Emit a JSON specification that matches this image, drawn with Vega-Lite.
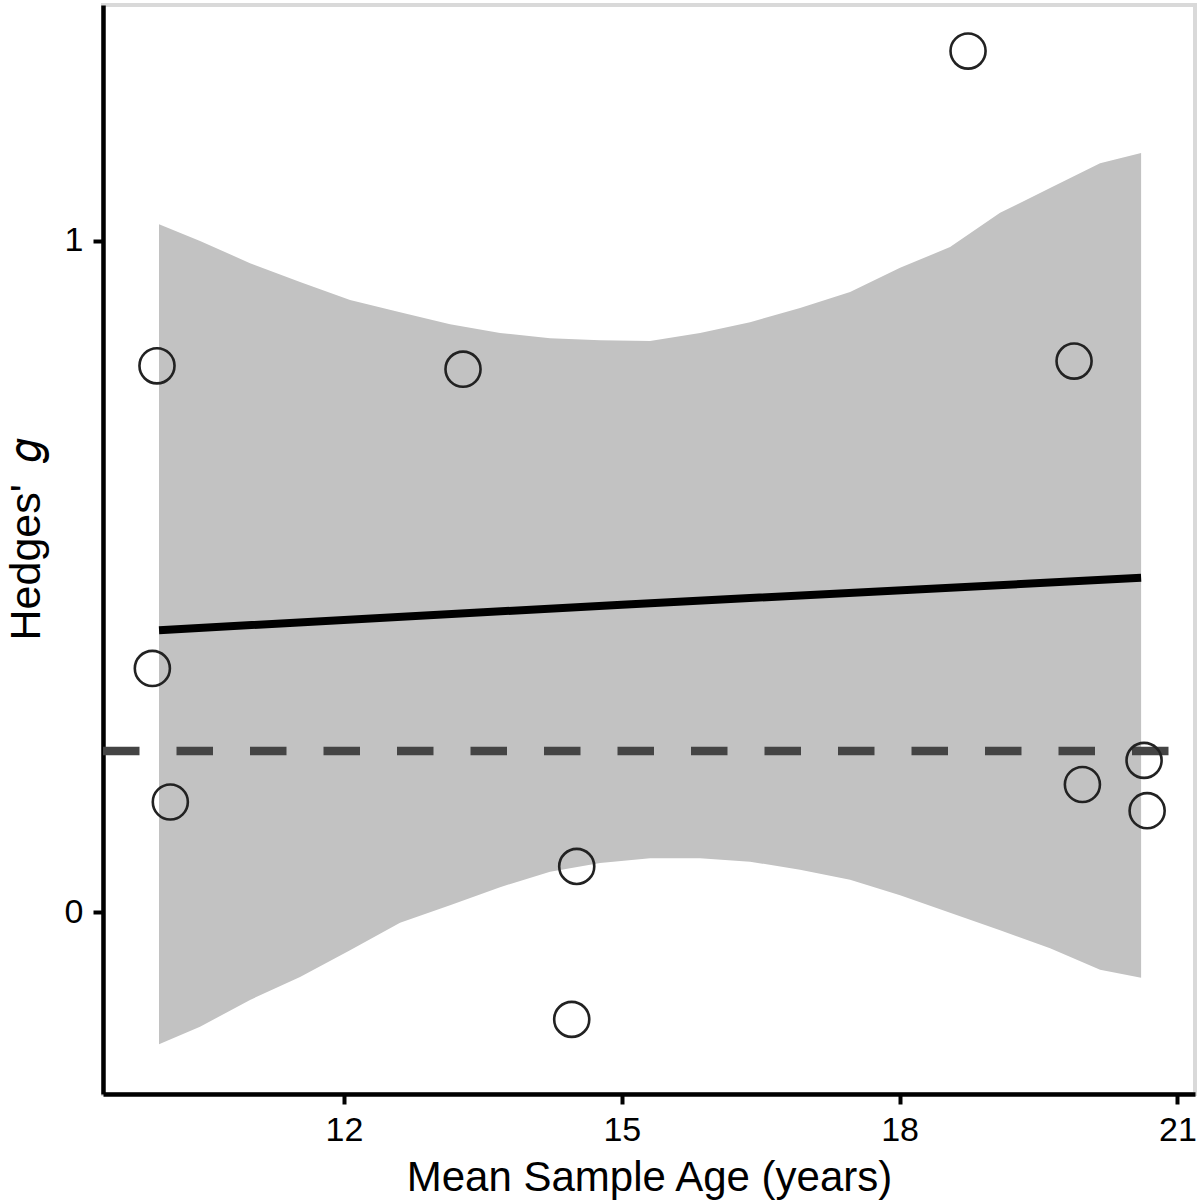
{
  "$schema": "https://vega.github.io/schema/vega-lite/v6.json",
  "autosize": "none",
  "width": 1092,
  "height": 1089,
  "padding": {"left": 103, "top": 5, "right": 5, "bottom": 106},
  "background": "white",
  "config": {
    "font": "Liberation Sans",
    "view": {"stroke": "#d9d9d9", "strokeWidth": 4},
    "axis": {
      "grid": false,
      "domainColor": "black",
      "domainWidth": 4.5,
      "tickColor": "black",
      "tickWidth": 4,
      "tickSize": 10,
      "labelFont": "Liberation Sans",
      "labelFontSize": 34,
      "labelColor": "black",
      "titleFont": "Liberation Sans",
      "titleFontSize": 42,
      "titleFontWeight": "normal",
      "titleColor": "black"
    }
  },
  "datasets": {
    "points": [
      {"age": 9.930, "g": 0.363},
      {"age": 9.980, "g": 0.814},
      {"age": 10.124, "g": 0.164},
      {"age": 13.285, "g": 0.809},
      {"age": 14.513, "g": 0.068},
      {"age": 14.459, "g": -0.160},
      {"age": 18.739, "g": 1.283},
      {"age": 19.884, "g": 0.821},
      {"age": 19.974, "g": 0.190},
      {"age": 20.640, "g": 0.226},
      {"age": 20.673, "g": 0.151}
    ],
    "band": [
      {"age": 10.002, "lo": -0.197, "hi": 1.025},
      {"age": 10.445, "lo": -0.171, "hi": 1.000},
      {"age": 10.985, "lo": -0.131, "hi": 0.967},
      {"age": 11.525, "lo": -0.097, "hi": 0.939},
      {"age": 12.065, "lo": -0.057, "hi": 0.912},
      {"age": 12.605, "lo": -0.016, "hi": 0.894},
      {"age": 13.145, "lo": 0.010, "hi": 0.876},
      {"age": 13.685, "lo": 0.037, "hi": 0.863},
      {"age": 14.225, "lo": 0.060, "hi": 0.855},
      {"age": 14.765, "lo": 0.073, "hi": 0.852},
      {"age": 15.305, "lo": 0.080, "hi": 0.851},
      {"age": 15.845, "lo": 0.080, "hi": 0.863},
      {"age": 16.385, "lo": 0.075, "hi": 0.879},
      {"age": 16.925, "lo": 0.063, "hi": 0.900},
      {"age": 17.465, "lo": 0.048, "hi": 0.924},
      {"age": 18.005, "lo": 0.025, "hi": 0.960},
      {"age": 18.545, "lo": -0.001, "hi": 0.991},
      {"age": 19.085, "lo": -0.027, "hi": 1.042},
      {"age": 19.625, "lo": -0.054, "hi": 1.079},
      {"age": 20.165, "lo": -0.086, "hi": 1.116},
      {"age": 20.608, "lo": -0.098, "hi": 1.131}
    ],
    "fit": [
      {"age": 10.002, "g": 0.420},
      {"age": 15.0, "g": 0.458},
      {"age": 20.608, "g": 0.498}
    ],
    "ref": [{"g": 0.240}]
  },
  "layer": [
    {
      "data": {"name": "band"},
      "mark": {"type": "area", "color": "#c2c2c2", "opacity": 1},
      "encoding": {
        "x": {"field": "age", "type": "quantitative",
              "scale": {"domain": [9.397, 21.19], "nice": false, "zero": false},
              "axis": {"values": [12, 15, 18, 21], "format": "d", "labelPadding": 9, "titlePadding": 10, "labelFontSize": 34},
              "title": "Mean Sample Age (years)"},
        "y": {"field": "lo", "type": "quantitative",
              "scale": {"domain": [-0.2712, 1.3517], "nice": false, "zero": false},
              "axis": {"values": [0, 1], "format": "d", "labelPadding": 10, "titlePadding": 16, "labelFontSize": 34, "titleFontSize": 43, "titleY": 534},
              "title": "Hedges'\u2002𝑔"},
        "y2": {"field": "hi"}
      }
    },
    {
      "data": {"name": "fit"},
      "mark": {"type": "line", "color": "black", "strokeWidth": 8, "strokeCap": "butt"},
      "encoding": {
        "x": {"field": "age", "type": "quantitative"},
        "y": {"field": "g", "type": "quantitative"}
      }
    },
    {
      "data": {"name": "ref"},
      "mark": {"type": "rule", "color": "#444444", "strokeWidth": 8.5, "strokeDash": [36.5, 37], "strokeDashOffset": 47, "strokeCap": "butt"},
      "encoding": {
        "y": {"field": "g", "type": "quantitative"}
      }
    },
    {
      "data": {"name": "points"},
      "mark": {"type": "point", "shape": "circle", "filled": false, "size": 1230, "strokeWidth": 2.6, "color": "#222222", "opacity": 1},
      "encoding": {
        "x": {"field": "age", "type": "quantitative"},
        "y": {"field": "g", "type": "quantitative"}
      }
    }
  ]
}
